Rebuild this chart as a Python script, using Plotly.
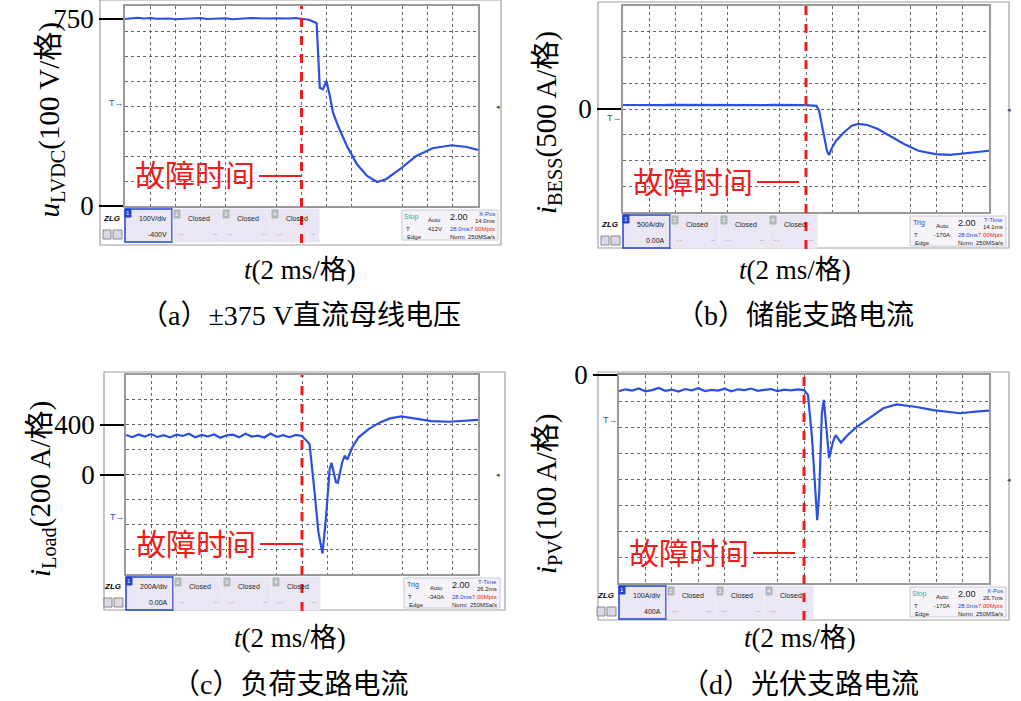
import plotly.graph_objects as go

W, H = 1021, 701
SERIF = "Liberation Serif, Noto Sans CJK SC"

# ---------------- data ----------------
base_t = [i * 0.5 for i in range(28)]
a_base = [748, 751, 753, 750, 752, 749, 751, 750, 747, 749, 751, 750, 752, 748,
          749, 750, 751, 747, 749, 750, 752, 751, 749, 750, 751, 749, 750, 752]
a_t = [14.0, 14.6, 15.2, 15.3, 15.45, 15.7, 15.98, 16.25, 16.5, 16.9, 17.6, 18.4, 19.2,
       20.0, 20.7, 21.8, 23.1, 24.4, 25.9, 27.1, 28.0]
a_v = [750, 745, 731, 627, 473, 467, 500, 440, 373, 320, 240, 167, 120,
       96, 107, 147, 200, 231, 243, 236, 224]

b_base = [78, 76, 80, 77, 79, 78, 75, 79, 78, 80, 77, 78, 79, 76,
          78, 80, 77, 78, 79, 77, 80, 78, 76, 79, 78, 77, 79, 78]
b_t = [14.0, 14.8, 15.0, 15.3, 15.6, 15.75, 16.0, 16.3, 16.9, 17.5, 18.0, 18.7, 19.5,
       20.4, 21.5, 22.6, 23.9, 25.0, 26.2, 27.3, 28.0]
b_v = [76, 60, -30, -420, -810, -895, -745, -615, -455, -325, -290, -310, -390,
       -520, -680, -810, -875, -890, -865, -830, -810]

c_base = [318, 300, 322, 305, 325, 302, 316, 298, 320, 310, 328, 300, 318, 306,
          322, 296, 315, 320, 300, 327, 305, 312, 298, 330, 302, 316, 300, 318]
c_t = [14.0, 14.6, 15.0, 15.3, 15.63, 15.9, 16.2, 16.35, 16.7, 16.85, 17.2, 17.4, 17.6,
       18.0, 18.5, 19.3, 20.2, 21.0, 21.9, 23.0, 24.3, 25.7, 27.0, 28.0]
c_v = [310, 245, -141, -461, -635, -355, 45, 93, -61, -67, 99, 152, 120,
       219, 299, 365, 419, 451, 467, 451, 429, 424, 432, 440]

d_base = [-62, -55, -60, -52, -63, -58, -50, -61, -56, -64, -54, -59, -51, -62,
          -57, -60, -53, -63, -55, -58, -52, -61, -57, -54, -62, -56, -59, -55]
d_t = [14.0, 14.3, 14.6, 14.85, 15.0, 15.15, 15.35, 15.5, 15.7, 15.9, 16.2, 16.4, 16.8,
       17.3, 18.0, 18.7, 19.4, 20.0, 21.0, 22.4, 23.8, 25.8, 27.0, 28.0]
d_v = [-58, -77, -237, -455, -558, -455, -147, -96, -199, -320, -256, -231, -260,
       -231, -199, -173, -147, -128, -113, -122, -135, -147, -141, -137]

panels = [
    dict(t=base_t + a_t, v=a_base + a_v, yr=[0, 800], dy=100, ticks=[0, 750],
         box=(125, 478, 6, 206), frame=(100, 501, 0, 245),
         ytitle="<i>u</i><sub>LVDC</sub>(100 V/格)", ytx=50,
         cap="（a）±375 V直流母线电压", capy=316, tx=300, tmark=103,
         ch1=("100V/div", "-400V"), st=("Stop", "412V", "X-Pos", "14.0ms")),
    dict(t=base_t + b_t, v=b_base + b_v, yr=[-2000, 2000], dy=500, ticks=[0],
         box=(623, 989, 6, 212), frame=(598, 1009, 2, 248),
         ytitle="<i>i</i><sub>BESS</sub>(500 A/格)", ytx=548,
         cap="（b）储能支路电流", capy=316, tx=795, tmark=118,
         ch1=("500A/div", "0.00A"), st=("Trig", "-170A", "T-Time", "14.1ms")),
    dict(t=base_t + c_t, v=c_base + c_v, yr=[-800, 800], dy=200, ticks=[0, 400],
         box=(126, 478, 375, 574), frame=(104, 505, 372, 610),
         ytitle="<i>i</i><sub>Load</sub>(200 A/格)", ytx=42,
         cap="（c）负荷支路电流", capy=684, tx=290, tmark=517,
         ch1=("200A/div", "0.00A"), st=("Trig", "-340A", "T-Time", "26.2ms")),
    dict(t=base_t + d_t, v=d_base + d_v, yr=[-800, 0], dy=100, ticks=[0],
         box=(619, 989, 375, 583), frame=(598, 1009, 372, 620),
         ytitle="<i>i</i><sub>PV</sub>(100 A/格)", ytx=548,
         cap="（d）光伏支路电流", capy=684, tx=800, tmark=420,
         ch1=("100A/div", "400A"), st=("Stop", "-170A", "X-Pos", "26.7ms")),
]

def px(x):
    return x / W

def py(y):
    return 1 - y / H

fig = go.Figure()
shapes, ann = [], []

def rect(x0, y0, x1, y1, fill=None, line="#b8b8b8", w=1):
    shapes.append(dict(type="rect", xref="paper", yref="paper", x0=px(x0), x1=px(x1),
                       y0=py(y1), y1=py(y0), fillcolor=fill or "rgba(0,0,0,0)",
                       line=dict(color=line, width=w), layer="below"))

def txt(x, y, s, size=7, color="#222", xa="center", font="Arial", angle=0):
    ann.append(dict(xref="paper", yref="paper", x=px(x), y=py(y), text=s, showarrow=False,
                    xanchor=xa, yanchor="middle", textangle=angle,
                    font=dict(size=size, color=color, family=font)))

for i, p in enumerate(panels):
    k = "" if i == 0 else str(i + 1)
    L, R, T, B = p["box"]
    fig.add_trace(go.Scatter(x=p["t"], y=p["v"], mode="lines", xaxis="x" + k, yaxis="y" + k,
                             line=dict(color="#2b4fe0", width=2.2), showlegend=False))
    grid = dict(showgrid=True, gridcolor="#666", griddash="dot", gridwidth=1)
    fig.layout["xaxis" + k] = dict(domain=[px(L), px(R)], range=[0, 28], anchor="y" + k,
                                   automargin=False,
                                   showgrid=False, zeroline=False, showticklabels=False, ticks="",
                                   minor=dict(dtick=2, tick0=0, **grid),
                                   showline=True, mirror=True, linecolor="#9a9a9a", linewidth=1.5)
    fig.layout["yaxis" + k] = dict(domain=[py(B), py(T)], range=p["yr"], anchor="x" + k,
                                   automargin=False,
                                   showgrid=False, zeroline=False, tickmode="array",
                                   tickvals=p["ticks"], ticks="outside", ticklen=24,
                                   tickwidth=2, tickcolor="#000",
                                   tickfont=dict(family=SERIF, size=27, color="#000"),
                                   minor=dict(dtick=p["dy"], tick0=p["yr"][0], **grid),
                                   showline=True, mirror=True, linecolor="#9a9a9a", linewidth=1.5)
    fx0, fx1, fy0, fy1 = p["frame"]
    rect(fx0, fy0, fx1, fy1, line="#a0a0a0", w=1.2)
    # red fault line (through plot and status bar)
    shapes.append(dict(type="line", xref="x" + k, yref="paper", x0=14, x1=14,
                       y0=py(B + 37), y1=py(T), line=dict(color="#ee1c1c", width=3, dash="dash")))
    shapes.append(dict(type="line", xref="paper", yref="paper", x0=px(L + 134), x1=px(L + 176),
                       y0=py(B - 30), y1=py(B - 30), line=dict(color="#ee1c1c", width=2)))
    txt(L + 8, B - 30, "故障时间", size=30, color="#ee1c1c", xa="left", font=SERIF)
    # trigger marker
    txt(L - 9, p["tmark"], "T→", size=9, color="#2b4fe0")
    txt(R + 20, (T + B) / 2, "◂", size=7, color="#444")
    # status bar
    sb0, sb1 = B + 3, B + 36
    txt(L - 14, sb0 + 9, "<b><i>ZLG</i></b>", size=8, color="#000")
    rect(L - 22, sb1 - 12, L - 14, sb1 - 3, fill="#d8d8e8", line="#888")
    rect(L - 12, sb1 - 12, L - 3, sb1 - 3, fill="#d8d8e8", line="#888")
    rect(L, sb0, L + 47, sb1, fill="#ebe6f3", line="#2244cc", w=1.5)
    rect(L, sb0, L + 6, sb0 + 8, fill="#2244cc", line="#2244cc")
    txt(L + 3, sb0 + 4, "1", size=6, color="#fff")
    txt(L + 44, sb0 + 9, p["ch1"][0], size=7, xa="right")
    txt(L + 44, sb0 + 25, p["ch1"][1], size=7, xa="right")
    for j in range(3):
        x0 = L + 48 + j * 49
        rect(x0, sb0, x0 + 48, sb1, fill="#ebe6f3", line="#ebe6f3")
        rect(x0 + 1, sb0 + 1, x0 + 7, sb0 + 9, fill="#b0b8b8", line="#b0b8b8")
        txt(x0 + 4, sb0 + 5, str(j + 2), size=6, color="#fff")
        txt(x0 + 26, sb0 + 9, "Closed", size=7)
        txt(x0 + 8, sb0 + 25, "-.-", size=6, color="#777")
        txt(x0 + 42, sb0 + 25, "--", size=6, color="#777")
    rr = min(R + 22, fx1 - 3)
    sx = rr - 96
    rect(sx, sb0 + 1, rr, sb1 - 2, fill="#f5f3f8", line="#c8c8d8")
    txt(sx + 9, sb0 + 8, p["st"][0], size=7, color="#3aa" if p["st"][0] == "Stop" else "#2244cc")
    txt(sx + 32, sb0 + 11, "Auto", size=6)
    txt(sx + 2, sb0 + 20, "T", size=6, xa="left")
    txt(sx + 42, sb0 + 20, p["st"][1], size=6, xa="right")
    txt(sx + 12, sb0 + 28, "Edge", size=6)
    txt(sx + 57, sb0 + 8, "2.00", size=9)
    txt(rr - 1, sb0 + 5, p["st"][2], size=6, color="#2244cc", xa="right")
    txt(rr - 1, sb0 + 12, p["st"][3], size=6, xa="right")
    txt(sx + 46, sb0 + 20, "28.0ms", size=6, color="#2244cc", xa="left")
    txt(rr - 1, sb0 + 20, "7.00Mpts", size=6, color="#ee2222", xa="right")
    txt(sx + 46, sb0 + 28, "Norm", size=6, xa="left")
    txt(rr - 1, sb0 + 28, "250MSa/s", size=6, xa="right")
    # titles
    txt(p["ytx"], (fy0 + fy1) / 2 - 2, p["ytitle"], size=29, color="#000", font=SERIF, angle=-90)
    txt(p["tx"], p["capy"] - 46, "<i>t</i>(2 ms/格)", size=27, color="#000", font=SERIF)
    txt(p["tx"], p["capy"], p["cap"], size=28, color="#000", font=SERIF)

fig.update_layout(width=W, height=H, margin=dict(l=0, r=0, t=0, b=0),
                  paper_bgcolor="white", plot_bgcolor="white",
                  shapes=shapes, annotations=ann)
fig.write_html("out.html", config={"displayModeBar": False},
               post_script="document.body.style.margin='0';document.body.style.overflow='hidden';")
